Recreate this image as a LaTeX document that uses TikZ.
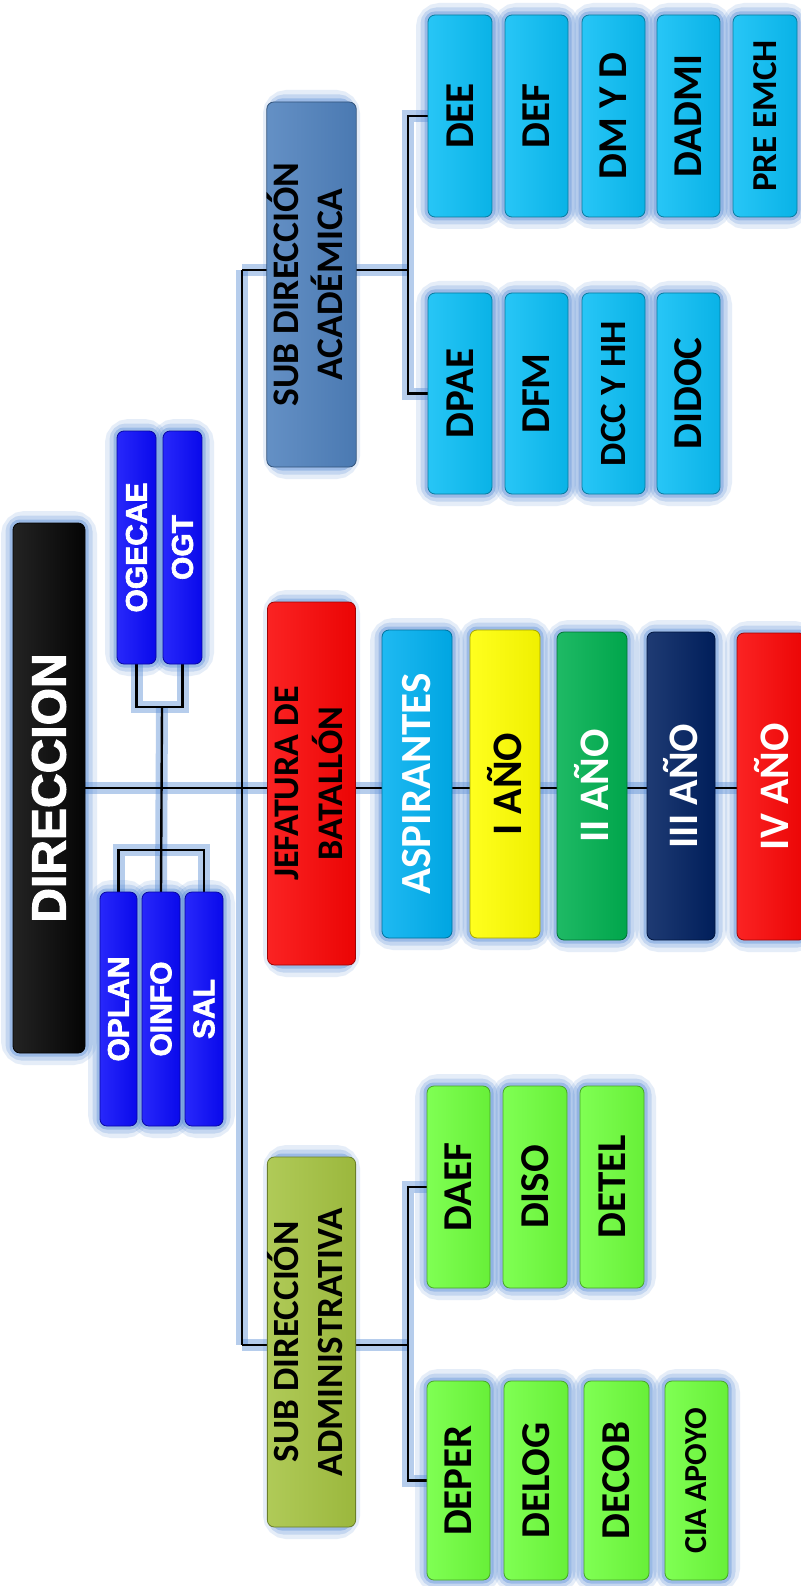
\documentclass[tikz,border=0pt]{standalone}
\usepackage{fontspec}
\setmainfont{Carlito}
\newfontfamily\arialf{Liberation Sans}[BoldFeatures={FakeBold=2.2}]
\usetikzlibrary{calc}
\definecolor{glowc}{RGB}{95,145,215}
\definecolor{dirbk}{RGB}{5,5,5}
\definecolor{bluebx}{RGB}{10,10,250}
\definecolor{acadbx}{RGB}{79,129,189}
\definecolor{redbx}{RGB}{250,5,5}
\definecolor{aspbx}{RGB}{0,176,240}
\definecolor{yelbx}{RGB}{255,255,0}
\definecolor{grnbx}{RGB}{0,176,80}
\definecolor{navbx}{RGB}{0,32,96}
\definecolor{skybx}{RGB}{10,190,245}
\definecolor{olvbx}{RGB}{165,195,65}
\definecolor{limbx}{RGB}{110,255,60}
\pgfdeclarelayer{bg}
\pgfdeclarelayer{glow}
\pgfdeclarelayer{lines}
\pgfsetlayers{bg,glow,lines,main}
\tikzset{
  boxst/.style={rectangle, rounded corners=7pt, inner sep=0pt, outer sep=0pt, line width=0.8pt},
  gla/.style={draw=glowc, line width=24pt, draw opacity=.16, rounded corners=12pt},
  glb/.style={draw=glowc, line width=15pt, draw opacity=.24, rounded corners=9pt},
  glcc/.style={draw=glowc, line width=7pt, draw opacity=.40, rounded corners=7pt},
  lglow/.style={draw=glowc, line width=12pt, draw opacity=.45},
  conn/.style={draw=black, line width=2.4pt}
}
% #1 name, #2 x1, #3 y1, #4 x2, #5 y2, #6 fill, #7 text colour, #8 font size, #9 text
\newcommand\bx[9]{%
  \begin{pgfonlayer}{glow}
    \draw[gla] (#2,#3) rectangle (#4,#5);
    \draw[glb] (#2,#3) rectangle (#4,#5);
    \draw[glcc] (#2,#3) rectangle (#4,#5);
  \end{pgfonlayer}
  \node[boxst, draw=#6!65!black, left color=#6!88!white, right color=#6!94!black, text=#7,
        minimum width={(#4-#2)*1pt}, minimum height={(#5-#3)*1pt}]
    (#1) at ({(#2+#4)/2},{(#3+#5)/2})
    {\rotatebox{90}{\fontsize{#8}{44}\selectfont\bfseries #9}};%
}
\newcommand\cn[1]{%
  \begin{pgfonlayer}{glow}\draw[lglow] #1;\end{pgfonlayer}%
  \begin{pgfonlayer}{lines}\draw[conn] #1;\end{pgfonlayer}%
}
\begin{document}
\begin{tikzpicture}[x=1pt,y=-1pt]
\useasboundingbox (0,0) rectangle (800,1586);
\begin{pgfonlayer}{bg}\fill[white] (0,0) rectangle (800,1586);\end{pgfonlayer}

% top level
\bx{dir}{13}{523}{85}{1053}{dirbk}{white}{48}{\arialf DIRECCION}
\bx{ogecae}{117}{431}{156}{664}{bluebx}{white}{30}{\arialf OGECAE}
\bx{ogt}{163}{431}{202}{664}{bluebx}{white}{30}{\arialf OGT}
\bx{oplan}{100}{892}{137}{1126}{bluebx}{white}{30}{\arialf OPLAN}
\bx{oinfo}{142}{892}{180}{1126}{bluebx}{white}{30}{\arialf OINFO}
\bx{sal}{185}{892}{223}{1126}{bluebx}{white}{30}{\arialf SAL}

% second level
\bx{sa}{275}{102}{348}{467}{acadbx}{black}{37.5}{\begin{tabular}{@{}c@{}}SUB DIRECCIÓN\\ACADÉMICA\end{tabular}}
\bx{jb}{275}{602}{348}{965}{redbx}{black}{36}{\begin{tabular}{@{}c@{}}JEFATURA DE\\BATALLÓN\end{tabular}}
\bx{sad}{275}{1157}{348}{1527}{olvbx}{black}{37}{\begin{tabular}{@{}c@{}}SUB DIRECCIÓN\\ADMINISTRATIVA\end{tabular}}

% years
\bx{asp}{382}{630}{452}{938}{aspbx}{white}{43}{ASPIRANTES}
\bx{y1}{470}{630}{540}{938}{yelbx}{black}{42}{I AÑO}
\bx{y2}{557}{632}{627}{940}{grnbx}{white}{42}{II AÑO}
\bx{y3}{647}{632}{715}{940}{navbx}{white}{42}{III AÑO}
\bx{iv}{737}{633}{806}{940}{redbx}{white}{42}{IV AÑO}

% academic
\bx{dee}{428}{15}{492}{217}{skybx}{black}{41}{DEE}
\bx{def}{505}{15}{568}{217}{skybx}{black}{41}{DEF}
\bx{dmyd}{582}{15}{645}{217}{skybx}{black}{41}{DM Y D}
\bx{dadmi}{657}{15}{720}{217}{skybx}{black}{41}{DADMI}
\bx{pre}{733}{15}{797}{217}{skybx}{black}{35}{PRE EMCH}
\bx{dpae}{428}{293}{492}{494}{skybx}{black}{41}{DPAE}
\bx{dfm}{505}{293}{568}{494}{skybx}{black}{41}{DFM}
\bx{dcc}{582}{293}{645}{494}{skybx}{black}{37}{DCC Y HH}
\bx{didoc}{657}{293}{720}{494}{skybx}{black}{41}{DIDOC}

% administrative
\bx{daef}{427}{1086}{490}{1288}{limbx}{black}{41}{DAEF}
\bx{diso}{503}{1086}{567}{1288}{limbx}{black}{41}{DISO}
\bx{detel}{580}{1086}{644}{1288}{limbx}{black}{41}{DETEL}
\bx{deper}{427}{1381}{490}{1580}{limbx}{black}{41}{DEPER}
\bx{delog}{504}{1381}{568}{1580}{limbx}{black}{41}{DELOG}
\bx{decob}{584}{1381}{649}{1580}{limbx}{black}{41}{DECOB}
\bx{cia}{665}{1381}{728}{1580}{limbx}{black}{32}{CIA APOYO}

% junction points
\coordinate (mvt) at (242,270);
\coordinate (mvb) at (242,1345);
\coordinate (ja) at (408,270);
\coordinate (jb) at (408,1345);
\coordinate (bt) at (162,707);
\coordinate (bb) at (162,850);

% connectors
\cn{(dir.east) -- (dir.east -| iv.center)}
\cn{(mvt) -- (mvb)}
\cn{(mvt) -- (ja)}
\cn{(mvb) -- (jb)}
\cn{(dee.west) -- (dee.west -| ja) -- (dpae.west -| ja) -- (dpae.west)}
\cn{(daef.west) -- (daef.west -| jb) -- (deper.west -| jb) -- (deper.west)}
\cn{(ogecae.south) |- (bt) -| (ogt.south)}
\cn{(bt) -- (oinfo.north)}
\cn{(oplan.north) |- (bb) -| (sal.north)}
\end{tikzpicture}
\end{document}
